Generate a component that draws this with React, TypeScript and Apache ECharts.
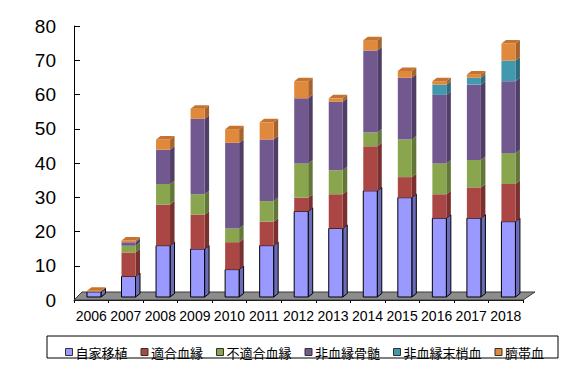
import React, { useEffect, useRef } from "react";
import * as echarts from "echarts";

const years = ["2006", "2007", "2008", "2009", "2010", "2011", "2012", "2013", "2014", "2015", "2016", "2017", "2018"];
const seriesNames = ["自家移植", "適合血縁", "不適合血縁", "非血縁骨髄", "非血縁末梢血", "臍帯血"];
const autologous = [1.5, 6, 15, 14, 8, 15, 25, 20, 31, 29, 23, 23, 22];
const matchedRelated = [0, 7, 12, 10, 8, 7, 4, 10, 13, 6, 7, 9, 11];
const mismatchedRelated = [0, 2, 6, 6, 4, 6, 10, 7, 4, 11, 9, 8, 9];
const unrelatedBM = [0, 1, 10, 22, 25, 18, 19, 20, 24, 18, 20, 22, 21];
const unrelatedPB = [0, 0, 0, 0, 0, 0, 0, 0, 0, 0, 3, 2, 6];
const cordBlood = [0.3, 0.5, 3, 3, 4, 5, 5, 1, 3, 2, 1, 1, 5];
const yTicks = { min: 0, max: 80, interval: 10 };

const allSeries = [autologous, matchedRelated, mismatchedRelated, unrelatedBM, unrelatedPB, cordBlood];

const palette = [
  { front: "#9999FF", side: "#6B6BB8", top: "#8A8AEA", stroke: "#000000" },
  { front: "#AA4643", side: "#7A302E", top: "#963C39", stroke: null },
  { front: "#89A54E", side: "#627738", top: "#7A9444", stroke: null },
  { front: "#71588F", side: "#503E67", top: "#644E80", stroke: null },
  { front: "#4198AF", side: "#2D6C7D", top: "#3A889D", stroke: null },
  { front: "#E0883C", side: "#A8632A", top: "#C57430", stroke: null },
];

const DEPTH_X = 2.7;
const DEPTH_Y = 3;
const SIDE_X = 4.5;
const SIDE_Y = 3.5;
const BAR_W = 14;

function makeRender(ci: number) {
  const c = palette[ci];
  return (params: any, api: any) => {
    const idx = api.value(0);
    const lo = api.value(1);
    const hi = api.value(2);
    const isTop = api.value(3);
    if (!(hi - lo > 0)) return null;
    const pLo = api.coord([idx, lo]);
    const pHi = api.coord([idx, hi]);
    const cx = pLo[0] + DEPTH_X;
    const x0 = cx - BAR_W / 2;
    const x1 = cx + BAR_W / 2;
    const yb = pLo[1] - DEPTH_Y;
    const yt = pHi[1] - DEPTH_Y;
    const strokeStyle = c.stroke ? { stroke: c.stroke, lineWidth: 1 } : {};
    const children: any[] = [
      {
        type: "polygon",
        shape: { points: [[x1, yb], [x1 + SIDE_X, yb - SIDE_Y], [x1 + SIDE_X, yt - SIDE_Y], [x1, yt]] },
        style: { fill: c.side, ...strokeStyle },
      },
      {
        type: "rect",
        shape: { x: x0, y: yt, width: BAR_W, height: yb - yt },
        style: { fill: c.front, ...strokeStyle },
      },
    ];
    if (isTop) {
      children.push({
        type: "polygon",
        shape: { points: [[x0, yt], [x1, yt], [x1 + SIDE_X, yt - SIDE_Y], [x0 + SIDE_X, yt - SIDE_Y]] },
        style: { fill: c.top, ...strokeStyle },
      });
    }
    return { type: "group", children };
  };
}

function buildData() {
  const cum = years.map(() => 0);
  const lastNonZero = years.map((_, i) => {
    let last = -1;
    allSeries.forEach((s, si) => {
      if (s[i] > 0) last = si;
    });
    return last;
  });
  return allSeries.map((s, si) =>
    s.map((v, i) => {
      const lo = cum[i];
      cum[i] += v;
      return [i, lo, cum[i], lastNonZero[i] === si ? 1 : 0];
    })
  );
}

export default function App() {
  const ref = useRef<HTMLDivElement>(null);
  useEffect(() => {
    document.body.style.margin = "0";
    if (!ref.current) return;
    const chart = echarts.init(ref.current, undefined, { renderer: "svg" });
    const data = buildData();
    const barSeries = seriesNames.map((name, si) => ({
      type: "custom",
      name,
      renderItem: makeRender(si),
      data: data[si],
      encode: { x: 0, y: [1, 2] },
      itemStyle: { color: palette[si].front },
      z: 3 + si,
    }));
    const floor = {
      type: "custom",
      name: "floor",
      silent: true,
      z: 1,
      data: [[0, 0]],
      encode: { x: 0, y: 1 },
      renderItem: (params: any) => {
        const cs = params.coordSys;
        const xl = cs.x;
        const xr = cs.x + cs.width;
        const yb = cs.y + cs.height;
        return {
          type: "polygon",
          shape: { points: [[xl, yb], [xr, yb], [xr + 12, yb - 8], [xl + 8, yb - 8]] },
          style: { fill: "#8c8c8c", stroke: "#3a3a3a", lineWidth: 1 },
        };
      },
    };
    chart.setOption({
      animation: false,
      backgroundColor: "#ffffff",
      grid: { left: 74, top: 26, width: 449, height: 274, containLabel: false },
      xAxis: {
        type: "category",
        data: years,
        axisLine: { show: true, lineStyle: { color: "#000", width: 1 } },
        axisTick: { show: true, length: 3, lineStyle: { color: "#000" } },
        axisLabel: { color: "#000", fontSize: 14, fontFamily: "Liberation Sans", margin: 9, interval: 0, hideOverlap: false },
        splitLine: { show: false },
      },
      yAxis: {
        type: "value",
        min: yTicks.min,
        max: yTicks.max,
        interval: yTicks.interval,
        axisLine: { show: true, lineStyle: { color: "#000", width: 1 } },
        axisTick: { show: true, inside: true, length: 6, lineStyle: { color: "#000" } },
        axisLabel: { color: "#000", fontSize: 19, fontFamily: "Liberation Sans", margin: 18 },
        splitLine: { show: false },
      },
      legend: {
        data: seriesNames,
        left: 60,
        top: 340,
        icon: "rect",
        itemWidth: 7,
        itemHeight: 7,
        itemGap: 13,
        itemStyle: { borderColor: "#333", borderWidth: 1 },
        textStyle: { color: "#000", fontSize: 13, fontFamily: "Noto Sans CJK JP", lineHeight: 14, padding: [0, 0, 0, -2] },
      },
      graphic: [
        {
          type: "rect",
          shape: { x: 47, y: 336, width: 511, height: 22 },
          style: { fill: "none", stroke: "#000", lineWidth: 1 },
          z: 0,
        },
      ],
      series: [floor, ...barSeries],
    });
    return () => chart.dispose();
  }, []);
  return <div ref={ref} style={{ width: 569, height: 388 }} />;
}
